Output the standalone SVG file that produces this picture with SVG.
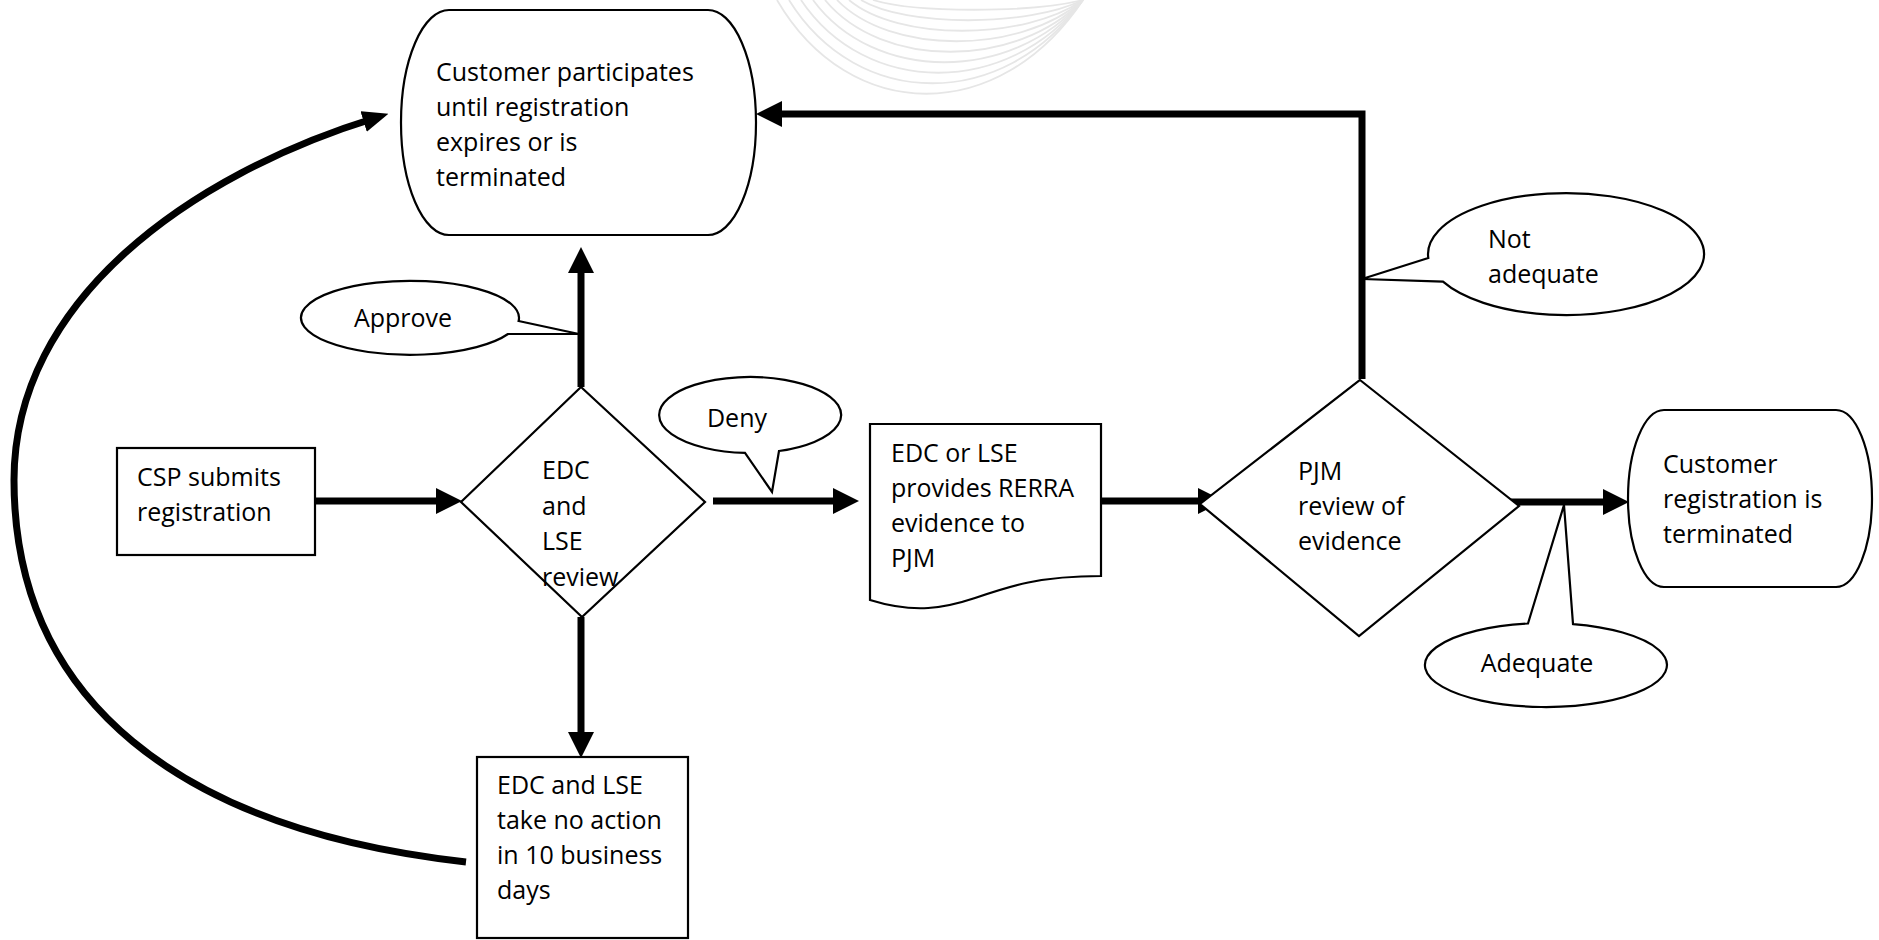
<svg xmlns="http://www.w3.org/2000/svg" width="1879" height="940" viewBox="0 0 1879 940">
<defs>
<style>
.shape{fill:#fff;stroke:#000;stroke-width:2.2}
.txt{font-family:"Open Sans","Noto Sans",sans-serif;font-size:25px;fill:#000}
.mid{text-anchor:middle}
.conn{fill:none;stroke:#000;stroke-width:7;stroke-linecap:butt;stroke-linejoin:miter}
.curve{fill:none;stroke:#000;stroke-width:7}
.wm{fill:none;stroke:#e6e6e6;stroke-width:1.8}
</style>
<marker id="ah" markerUnits="userSpaceOnUse" markerWidth="26" markerHeight="26" viewBox="0 0 24 24" refX="12" refY="12" orient="auto">
<path d="M0,0 L24,12 L0,24 Z" fill="#000"/>
</marker>
<marker id="ahc" markerUnits="userSpaceOnUse" markerWidth="26" markerHeight="22" viewBox="0 0 24 20" refX="11" refY="10" orient="auto">
<path d="M0,0 L24,10 L0,20 Z" fill="#000"/>
</marker>
</defs>
<rect width="1879" height="940" fill="#fff"/>
<g id="watermark">
<path class="wm" d="M777,0 C850,125 1000,125 1083,0"/>
<path class="wm" d="M789,0 C858,111 1004,111 1083,0"/>
<path class="wm" d="M801,0 C866,97 1008,97 1083,0"/>
<path class="wm" d="M813,0 C874,83 1012,83 1083,0"/>
<path class="wm" d="M825,0 C882,69 1016,69 1083,0"/>
<path class="wm" d="M837,0 C890,55 1020,55 1083,0"/>
<path class="wm" d="M849,0 C898,41 1024,41 1083,0"/>
<path class="wm" d="M861,0 C906,27 1028,27 1083,0"/>
<path class="wm" d="M873,0 C914,13 1032,13 1083,0"/>
</g>
<g id="connectors">
<path class="conn" d="M315,501 L449,501" marker-end="url(#ah)"/>
<path class="conn" d="M581,387 L581,260" marker-end="url(#ah)"/>
<path class="conn" d="M581,617 L581,745" marker-end="url(#ah)"/>
<path class="conn" d="M713,501 L846,501" marker-end="url(#ah)"/>
<path class="conn" d="M1101,501 L1211,501" marker-end="url(#ah)"/>
<path class="conn" d="M1509,502 L1616,502" marker-end="url(#ah)"/>
<path class="conn" d="M1362,379 L1362,114 L769,114" marker-end="url(#ah)"/>
<path class="curve" d="M466,862 C180,830 14,700 14,480 C14,300 190,175 375,118" marker-end="url(#ahc)"/>
</g>
<g id="node-participates">
<path class="shape" d="M449,10 L708,10 A48,112.5 0 0 1 708,235 L449,235 A48,112.5 0 0 1 449,10 Z"/>
<text class="txt" x="436" y="81">Customer participates</text>
<text class="txt" x="436" y="116">until registration</text>
<text class="txt" x="436" y="151">expires or is</text>
<text class="txt" x="436" y="186">terminated</text>
</g>
<g id="node-csp">
<rect class="shape" x="117" y="448" width="198" height="107"/>
<text class="txt" x="137" y="486">CSP submits</text>
<text class="txt" x="137" y="521">registration</text>
</g>
<g id="node-edc-review">
<path class="shape" d="M581,387 L705,502 L582,617 L461,502 Z"/>
<text class="txt" x="542" y="479">EDC</text>
<text class="txt" x="542" y="515">and</text>
<text class="txt" x="542" y="550">LSE</text>
<text class="txt" x="542" y="586">review</text>
</g>
<g id="node-no-action">
<rect class="shape" x="477" y="757" width="211" height="181"/>
<text class="txt" x="497" y="794">EDC and LSE</text>
<text class="txt" x="497" y="829">take no action</text>
<text class="txt" x="497" y="864">in 10 business</text>
<text class="txt" x="497" y="899">days</text>
</g>
<g id="node-rerra">
<path class="shape" d="M870,424 L1101,424 L1101,576 C1040,576 1010,586 975,598 C945,608 915,614 870,600 Z"/>
<text class="txt" x="891" y="462">EDC or LSE</text>
<text class="txt" x="891" y="497">provides RERRA</text>
<text class="txt" x="891" y="532">evidence to</text>
<text class="txt" x="891" y="567">PJM</text>
</g>
<g id="node-pjm-review">
<path class="shape" d="M1360,380 L1519,506 L1359,636 L1200,504 Z"/>
<text class="txt" x="1298" y="480">PJM</text>
<text class="txt" x="1298" y="515">review of</text>
<text class="txt" x="1298" y="550">evidence</text>
</g>
<g id="node-terminated">
<path class="shape" d="M1664,410 L1836,410 A36,88.5 0 0 1 1836,587 L1664,587 A36,88.5 0 0 1 1664,410 Z"/>
<text class="txt" x="1663" y="473">Customer</text>
<text class="txt" x="1663" y="508">registration is</text>
<text class="txt" x="1663" y="543">terminated</text>
</g>
<g id="label-approve">
<path class="shape" d="M518.6,321 L579,334 L508,334 A109,37 0 1 1 518.6,321 Z"/>
<text class="txt mid" x="403" y="327">Approve</text>
</g>
<g id="label-deny">
<path class="shape" d="M745,452.9 L772,492 L779,451 A91,38 0 1 0 745,452.9 Z"/>
<text class="txt mid" x="737" y="427">Deny</text>
</g>
<g id="label-not-adequate">
<path class="shape" d="M1428.3,258 L1362,279 L1443,281.7 A138,61 0 1 0 1428.3,258 Z"/>
<text class="txt" x="1488" y="248">Not</text>
<text class="txt" x="1488" y="283">adequate</text>
</g>
<g id="label-adequate">
<path class="shape" d="M1528,623.5 L1564,505 L1573,624.1 A121,42 0 1 1 1528,623.5 Z"/>
<text class="txt mid" x="1537" y="672">Adequate</text>
</g>
</svg>
